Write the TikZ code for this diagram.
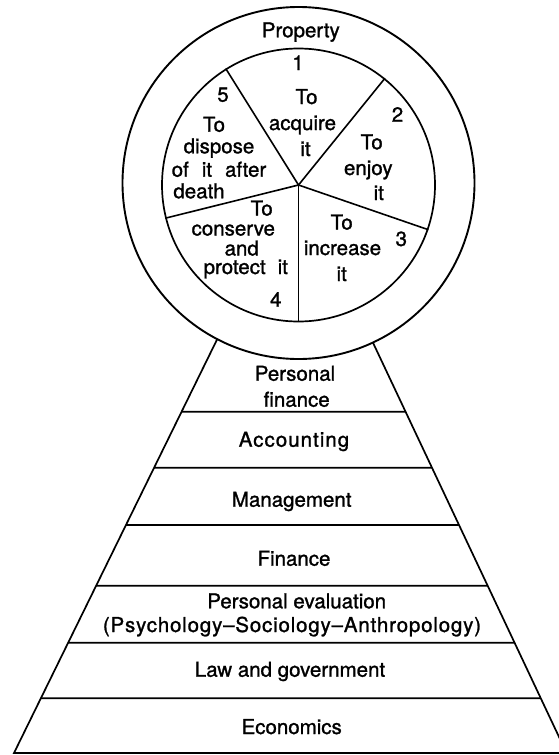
\documentclass[tikz,border=0pt]{standalone}
\usepackage{fontspec}
\setmainfont{TeX Gyre Heros}
\newfontfamily\heavyfont{TeX Gyre Heros}[FakeBold=1.2,Ligatures=TeX]
\begin{document}
\begin{tikzpicture}[x=1pt,y=-1pt,line width=1.6pt,
  txt/.style={anchor=base,inner sep=0pt,font=\heavyfont\fontsize{20.5}{24.5}\selectfont},
  ringline/.style={draw,circle,inner sep=0pt,line width=1.9pt},
  spokeline/.style={line width=1.6pt},
  bandline/.style={line width=1.7pt}]
\useasboundingbox (0,0) rectangle (559,755);
\fill[white] (0,0) rectangle (559,755);

% circles
\node[ringline,minimum size=352pt] (outer) at (298.5,183) {};
\node[ringline,minimum size=273pt,line width=1.7pt] (inner) at (298.5,185) {};
\coordinate (hub) at (inner.center);
\foreach \a in {122,51,-19.3,-90,194.2}
  \draw[spokeline] (hub) -- (inner.\a);

% pyramid
\coordinate (BL) at (14,753);
\coordinate (LT) at (217.3,339);
\coordinate (BR) at (566.6,753);
\coordinate (RT) at (372.9,342.5);
\draw[bandline] (LT) -- (BL) -- (BR) -- (RT);
\foreach \y in {411.7,467.7,525,585.7,642.7,698.3}
  \draw[bandline] (intersection of BL--LT and 0,\y--1,\y) -- (intersection of BR--RT and 0,\y--1,\y);

% circle texts
\node[txt] (prop) at (300.8,37.3) {Property};
\node[txt] (n1) at (298,70) {1};
\node[txt] (a1) at (306.5,104) {To};
\node[txt] (a2) at (302.5,130) {acquire};
\node[txt] (a3) at (305.5,156) {it};
\node[txt] (n2) at (397.5,121.7) {2};
\node[txt] (b1) at (371.7,149.3) {To};
\node[txt] (b2) at (368.3,175) {enjoy};
\node[txt] (b3) at (378.8,200) {it};
\node[txt] (n3) at (401.3,246) {3};
\node[txt] (c1) at (341.7,229.5) {To};
\node[txt] (c2) at (342.5,255) {increase};
\node[txt] (c3) at (341.7,281) {it};
\node[txt] (n4) at (275.8,306.7) {4};
\node[txt] (d1) at (261.7,215.5) {To};
\node[txt] (d2) at (233.3,235.5) {conserve};
\node[txt] (d3) at (241.7,255.5) {and};
\node[txt] (d4) at (245.8,274) {protect\hspace{12pt}it};
\node[txt] (n5) at (223,101.7) {5};
\node[txt] (e1) at (214,131.7) {To};
\node[txt] (e2) at (219,153.3) {dispose};
\node[txt] (e3) at (219,176.7) {of\hspace{13pt}it\hspace{13pt}after};
\node[txt] (e4) at (199,198.3) {death};

% pyramid texts
\node[txt] (pf1) at (295,380.7) {Personal};
\node[txt] (pf2) at (296.7,406.7) {finance};
\node[txt] (acc) at (294,446.7) {\addfontfeature{LetterSpace=5}Accounting};
\node[txt] (man) at (291.7,506.7) {Management};
\node[txt] (fin) at (294,565.7) {Finance};
\node[txt] (pe1) at (296.7,608.3) {Personal evaluation};
\node[txt] (pe2) at (292,632) {\addfontfeature{LetterSpace=4}(Psychology–Sociology–Anthropology)};
\node[txt] (law) at (290,676.7) {Law and government};
\node[txt] (eco) at (291.7,734) {Economics};
\end{tikzpicture}
\end{document}
